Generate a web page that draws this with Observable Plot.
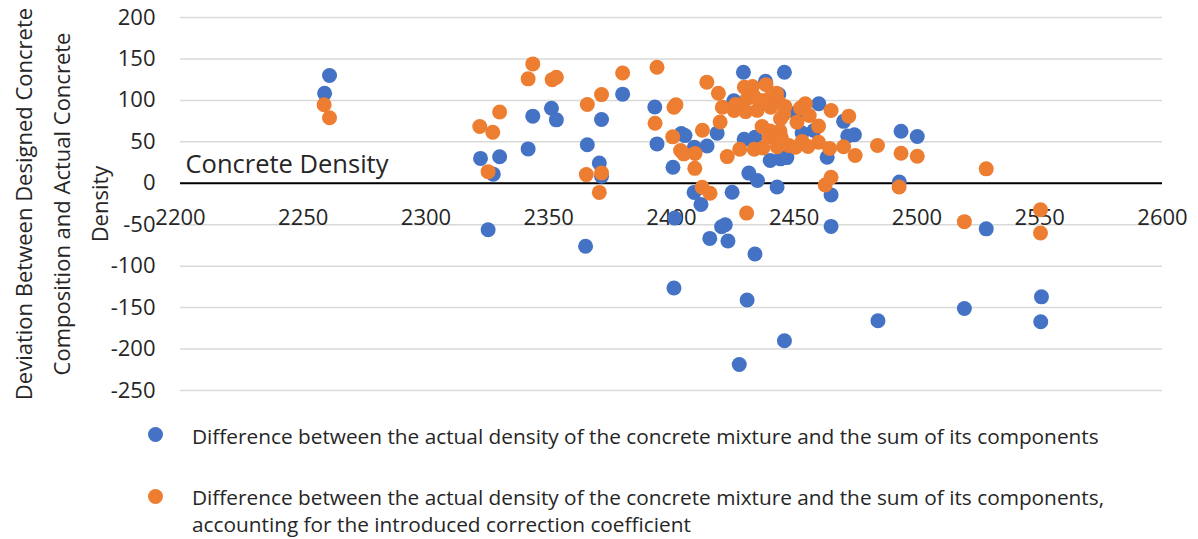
<!DOCTYPE html>
<html>
<head>
<meta charset="utf-8">
<script src="https://cdn.jsdelivr.net/npm/d3@7"></script>
<script src="https://cdn.jsdelivr.net/npm/@observablehq/plot@0.6"></script>
<style>
  body { margin: 0; background: #fff; font-family: "Open Sans", Lato, sans-serif; }
  #chart { position: relative; width: 1198px; height: 539px; overflow: hidden; }
  .legend-text { position: absolute; left: 192px; font-size: 20.8px; line-height: 27px; color: #262626; white-space: nowrap; }
  .swatch { position: absolute; left: 148px; width: 15px; height: 15px; border-radius: 50%; }
</style>
</head>
<body>
<div id="chart"></div>
<script>
// Density of the concrete mixture (kg/m³) against deviation between designed and actual density
const blueX = [2260.7, 2258.7, 2322.2, 2330, 2327.4, 2325.3, 2343.5, 2351.1, 2353.1, 2341.6,
  2371.5, 2380.1, 2365.7, 2370.6, 2371.5, 2365, 2393.2, 2394.1, 2404, 2405.5,
  2409.3, 2414.5, 2400.6, 2418.6, 2409.2, 2412, 2401.3, 2401, 2424.7, 2435,
  2443, 2465, 2492.8, 2465, 2420.4, 2421.9, 2415.6, 2423, 2434, 2430.8,
  2446, 2427.6, 2484.1, 2519.3, 2528.2, 2550.7, 2550.4, 2493.5, 2500.1, 2474.5,
  2471.8, 2429.3, 2446, 2438.3, 2443.7, 2425.4, 2429.6, 2434, 2440.2, 2444.4,
  2447, 2431.5, 2460, 2450.8, 2470.1, 2453.2, 2458, 2463.4];
const blueY = [130, 108.5, 30, 32, 11, -56, 81, 90.5, 76.5, 41.5,
  77, 107.5, 46.5, 24.5, 8.5, -76, 92, 47.5, 60, 57.5,
  43.5, 45, 19.3, 60.5, -11, -25.5, -42, -126.3, -10.8, 3.3,
  -4.5, -14, 1.5, -52, -52.5, -50, -66.5, -69.6, -85.3, -140.8,
  -190, -218.6, -165.8, -151, -55, -137, -167, 62.8, 56.4, 58.5,
  57, 134, 134, 123, 107, 99.5, 53, 55.6, 27.4, 29.5,
  31, 12.3, 95.9, 85, 74.7, 60.6, 63.6, 31.4];

const orangeX = [2258.5, 2260.7, 2330, 2321.9, 2327.2, 2325.3, 2343.5, 2341.6, 2351.4, 2353.1,
  2365.7, 2371.5, 2380.1, 2365.3, 2371.5, 2370.6, 2394.1, 2393.3, 2401, 2401.8,
  2400.5, 2403.7, 2405, 2409.6, 2409.5, 2412.6, 2414.4, 2419.1, 2420.7, 2419.8,
  2412.5, 2415.7, 2430.6, 2462.6, 2465, 2492.7, 2519.3, 2550.3, 2550.3, 2493.5,
  2500.1, 2483.9, 2474.8, 2472.2, 2528.2, 2429.7, 2433, 2438.5, 2442.8, 2425.5,
  2430.2, 2434.9, 2440.4, 2445.7, 2430.8, 2433.6, 2436.3, 2439.7, 2443.8, 2446.2,
  2436.9, 2440.2, 2444.2, 2444.7, 2439.7, 2427.8, 2422.7, 2433.7, 2437.2, 2443.1,
  2444.4, 2454.5, 2452.5, 2465, 2456.1, 2451.1, 2459.9, 2447.8, 2453.2, 2450.5,
  2455.6, 2459.9, 2464.4, 2470.1, 2444.4, 2426.1];
const orangeY = [94.7, 79, 86, 68.5, 61.6, 14, 144, 126, 125, 128,
  95, 107, 133, 10.5, 12.5, -11, 140, 72.5, 91.8, 94.8,
  56, 39.5, 35.5, 36, 18, 64, 122, 108.6, 91.8, 74,
  -4.8, -12, -36, -2, 7.3, -4.5, -46.3, -32, -60, 36.2,
  32.6, 45.5, 33.5, 81, 17.4, 116, 116.8, 119, 108.5, 87.8,
  86.5, 88, 91.8, 83, 102, 104.7, 100, 102, 97.8, 92.5,
  68.5, 63, 63, 55.6, 55.6, 41, 32.2, 41, 42.5, 44,
  51.6, 95.9, 90.8, 87.8, 81.8, 73.7, 69, 45.5, 50.5, 43.5,
  44.5, 49.5, 42, 44, 77.8, 95];

const xTicks = [2200, 2250, 2300, 2350, 2400, 2450, 2500, 2550, 2600];
const yTicks = [-250, -200, -150, -100, -50, 0, 50, 100, 150, 200];

const seriesNames = [
  "Difference between the actual density of the concrete mixture and the sum of its components",
  "Difference between the actual density of the concrete mixture and the sum of its components,\naccounting for the introduced correction coefficient"
];
const seriesColors = ["#4472C4", "#ED7D31"];
const xTitle = "Concrete Density";
const yTitle = "Deviation Between Designed Concrete\nComposition and Actual Concrete\nDensity";

const blue = blueX.map((x, i) => ({x, y: blueY[i]}));
const orange = orangeX.map((x, i) => ({x, y: orangeY[i]}));

const textColor = "#262626";
const plain = d => String(d); // plain integers with an ASCII hyphen for negatives

const plot = Plot.plot({
  width: 1198,
  height: 410,
  marginLeft: 180,
  marginRight: 36,
  marginTop: 17,
  marginBottom: 20,
  style: {fontFamily: "'Open Sans', Lato, sans-serif", color: textColor, background: "transparent", overflow: "visible"},
  x: {domain: [2200, 2600], axis: null},
  y: {domain: [-250, 200], axis: null},
  marks: [
    Plot.gridY(yTicks, {stroke: "#d9d9d9", strokeOpacity: 1, strokeWidth: 1.5}),
    Plot.ruleY([0], {stroke: "#000", strokeWidth: 2}),
    Plot.axisY(yTicks, {tickSize: 0, tickPadding: 25, fontSize: 22, label: null, fill: textColor, tickFormat: plain}),
    Plot.text(xTicks, {x: d => d, y: 0, dy: 35, text: plain, fontSize: 22, fill: textColor}),
    Plot.text([xTitle], {x: 2200, y: 0, dx: 5, dy: -18, textAnchor: "start", fontSize: 25.5, fill: textColor}),
    Plot.text([yTitle], {frameAnchor: "left", dx: -123, rotate: -90, textAnchor: "middle", lineAnchor: "middle", fontSize: 22, lineHeight: 1.73, fill: textColor}),
    Plot.dot(blue, {x: "x", y: "y", r: 7.5, fill: seriesColors[0]}),
    Plot.dot(orange, {x: "x", y: "y", r: 7.5, fill: seriesColors[1]})
  ]
});

const chart = document.getElementById("chart");
chart.appendChild(plot);

// Legend below the plot
const legendRows = [{top: 423, swatchTop: 427}, {top: 484, swatchTop: 489}];
seriesNames.forEach((name, i) => {
  const sw = document.createElement("div");
  sw.className = "swatch";
  sw.style.top = legendRows[i].swatchTop + "px";
  sw.style.background = seriesColors[i];
  chart.appendChild(sw);
  const t = document.createElement("div");
  t.className = "legend-text";
  t.style.top = legendRows[i].top + "px";
  t.innerHTML = name.split("\n").join("<br>");
  chart.appendChild(t);
});
</script>
</body>
</html>
